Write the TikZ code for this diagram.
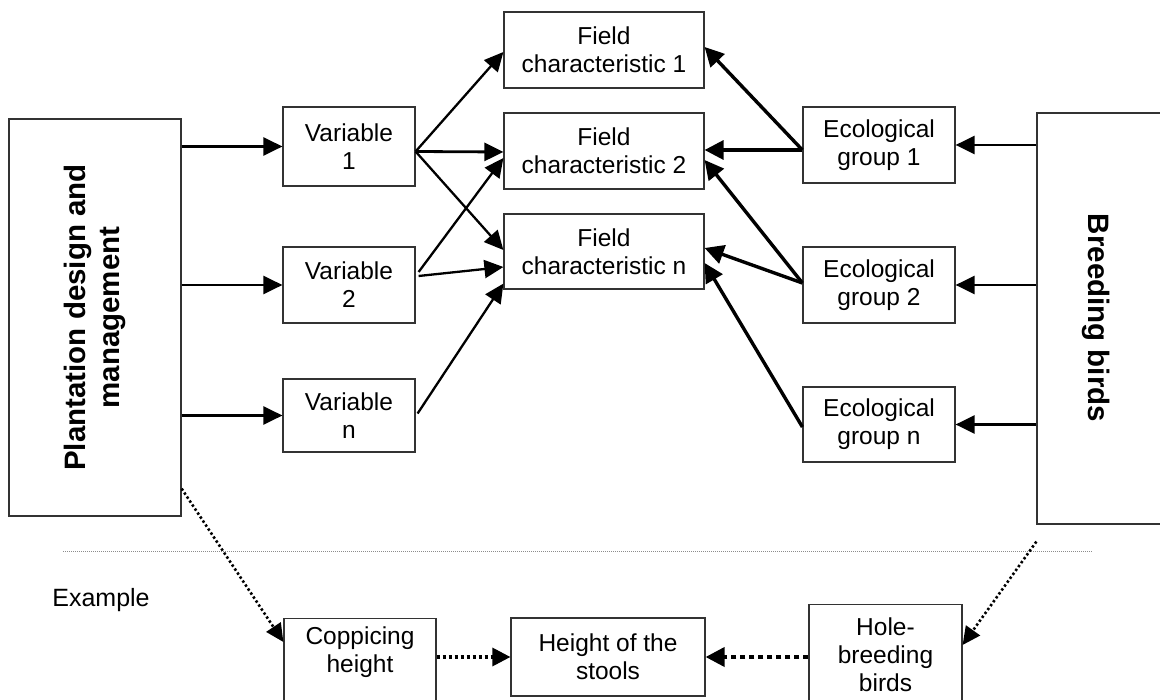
\documentclass[tikz,border=0pt]{standalone}
\usepackage{fontspec}
\setmainfont{Liberation Sans}
\usetikzlibrary{arrows.meta}
\begin{document}
\begin{tikzpicture}[x=1pt,y=-1pt,
  box/.style={draw=black!80, line width=1.2pt, fill=white, inner sep=0pt, align=center, font=\fontsize{24.5}{28}\selectfont},
  txt/.style={inner sep=0pt, align=center, font=\fontsize{24.5}{28}\selectfont},
  big/.style={inner sep=0pt, align=center, font=\fontsize{29.5}{34}\selectfont\bfseries},
  arr/.style={line width=2.8pt, -{Triangle[length=19pt,width=18pt]}},
  arrthin/.style={line width=2.3pt, -{Triangle[length=19pt,width=18pt]}},
  arrb/.style={line width=3.4pt, -{Triangle[length=19pt,width=19pt]}},
  dotarr/.style={line width=2.6pt, dash pattern=on 2.4pt off 2.4pt, -{Triangle[length=18pt,width=17pt]}},
  dotarrb/.style={line width=3.2pt, dash pattern=on 3pt off 3pt, -{Triangle[length=18pt,width=18pt]}},
  dotarrc/.style={line width=3.8pt, dash pattern=on 5pt off 4pt, -{Triangle[length=19pt,width=19pt]}},
  sepline/.style={draw=black!45, line width=0.8pt, dash pattern=on 1pt off 1pt}
]
\useasboundingbox (0,0) rectangle (1160,700);

% boxes
\node[box, minimum width=172pt, minimum height=397pt] (pdm) at (95,317.5) {};
\node[big, rotate=90] (pdmtxt) at (pdm.center) {Plantation design and\\management};

\node[box, minimum width=132pt, minimum height=79pt] (v1) at (349,146.5) {Variable\\1};
\node[box, minimum width=132pt, minimum height=76pt] (v2) at (349,285) {Variable\\2};
\node[box, minimum width=132pt, minimum height=73pt] (vn) at (349,415.5) {Variable\\n};

\node[box, minimum width=200pt, minimum height=76pt] (f1) at (604,50) {Field\\characteristic 1};
\node[box, minimum width=200pt, minimum height=76pt] (f2) at (604,151) {Field\\characteristic 2};
\node[box, minimum width=200pt, minimum height=75pt] (fn) at (604,251.5) {Field\\characteristic n};

\node[box, minimum width=152pt, minimum height=76pt] (e1) at (879,145) {Ecological\\group 1};
\node[box, minimum width=152pt, minimum height=76pt] (e2) at (879,285) {Ecological\\group 2};
\node[box, minimum width=152pt, minimum height=75pt] (en) at (879,424.5) {Ecological\\group n};

\node[box, minimum width=130pt, minimum height=411pt] (bb) at (1102,318.5) {};
\node[big, rotate=-90] (bbtxt) at (1096,318) {Breeding birds};

% separator and example
\coordinate (sepL) at (63,551);
\coordinate (sepR) at (1092,551);
\draw[sepline] (sepL) -- (sepR);
\node[txt, font=\fontsize{25}{28}\selectfont] (ex) at (101,600) {Example};

\node[box, minimum width=152pt, minimum height=100pt, anchor=north] (cop) at (360,618) {};
\node[txt] (coptxt) at (360,652) {Coppicing\\height};
\node[box, minimum width=194pt, minimum height=78pt] (hgt) at (608,657) {Height of the\\stools};
\node[box, minimum width=153pt, minimum height=110pt, anchor=north] (hole) at (885.5,604) {};
\node[txt] (holetxt) at (885.5,655) {Hole-\\breeding\\birds};

% left arrows
\draw[arr] (v1.west -| pdm.east) -- (v1.west);
\draw[arr] (v2.west -| pdm.east) -- (v2.west);
\draw[arr] (vn.west -| pdm.east) -- (vn.west);

% right arrows
\draw[arr] (e1.east -| bb.west) -- (e1.east);
\draw[arr] (e2.east -| bb.west) -- (e2.east);
\draw[arr] (en.east -| bb.west) -- (en.east);

% variables to field characteristics
\draw[arrthin] ([yshift=-5pt]v1.east) -- ([yshift=-2pt]f1.west);
\draw[arr] ([yshift=-5pt]v1.east) -- ([yshift=-1pt]f2.west);
\draw[arrthin] ([yshift=-5pt]v1.east) -- ([yshift=1.5pt]fn.west);
\draw[arrthin] ([xshift=3pt,yshift=13pt]v2.east) -- ([yshift=-7pt]f2.west);
\draw[arrthin] ([xshift=3pt,yshift=9pt]v2.east) -- ([yshift=-15.5pt]fn.west);
\draw[arrthin] ([xshift=2pt,yshift=2pt]vn.east) -- ([yshift=6pt]fn.south west);

% ecological groups to field characteristics
\draw[arrb] ([yshift=-5pt]e1.west) -- ([yshift=3pt]f1.east);
\draw[arrb] ([yshift=-5pt]e1.west) -- ([yshift=1pt]f2.east);
\draw[arrb] ([yshift=2pt]e2.west) -- ([yshift=-9pt]f2.east);
\draw[arrb] ([yshift=2pt]e2.west) -- ([yshift=3.5pt]fn.east);
\draw[arrb] ([yshift=-2.5pt]en.west) -- ([yshift=-11.5pt]fn.east);

% example arrows
\draw[dotarr] ([yshift=28pt]pdm.south east) -- ([yshift=-24pt]cop.north west);
\draw[dotarr] ([yshift=-17pt]bb.south west) -- ([yshift=-41pt]hole.north east);
\draw[dotarrb] (hgt.west -| cop.east) -- (hgt.west);
\draw[dotarrc] (hgt.east -| hole.west) -- (hgt.east);
\end{tikzpicture}
\end{document}
